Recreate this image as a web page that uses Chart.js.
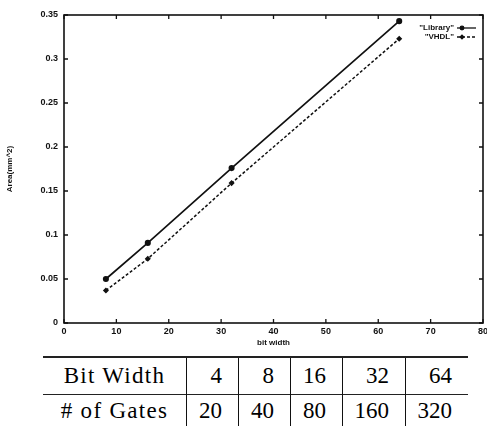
<!DOCTYPE html>
<html>
<head>
<meta charset="utf-8">
<script src="https://cdn.jsdelivr.net/npm/chart.js@4.4.1/dist/chart.umd.min.js"></script>
<style>
    html, body { margin: 0; padding: 0; background: #fff; overflow: hidden; }
    body { width: 487px; height: 427px; position: relative; }
    #areaChart { position: absolute; left: 0; top: 0; }
    #gateTable {
        position: absolute; left: 43px; top: 356px;
        border-collapse: collapse;
        font-family: "Liberation Serif", "DejaVu Serif", serif;
        font-size: 23px; color: #000;
    }
    #gateTable td {
        padding: 0 16px 0 0; text-align: right; height: 36px;
        border-left: 1.5px solid #111;
    }
    #gateTable tr:nth-child(2) td { height: 31px; }
    #gateTable td.head { text-align: center; padding: 0; letter-spacing: 1.3px; border-left: none; }
    #gateTable tr:first-child td { border-top: 2px solid #222; }
    #gateTable tr:nth-child(2) td { border-top: 1.5px solid #222; }
</style>
</head>
<body>
<canvas id="areaChart" width="497" height="352"></canvas>
<table id="gateTable"><tbody></tbody></table>
<script>
// 数据
const bitWidths = [8, 16, 32, 64];
const libraryArea = [0.05, 0.091, 0.176, 0.343];
const vhdlArea = [0.037, 0.073, 0.159, 0.323];

const tableBitWidth = [4, 8, 16, 32, 64];
const tableGates = [20, 40, 80, 160, 320];
const colWidths = [143, 51, 51, 51, 62, 62];

const ink = '#111';
const tickFont = { family: '"Liberation Sans", Arial, sans-serif', size: 9, weight: 'bold' };

// gnuplot 风格：边框 + 四边朝内的刻度
const framePlugin = {
    id: 'frame',
    afterDraw(chart) {
        const { ctx, chartArea: a, scales } = chart;
        ctx.save();
        ctx.strokeStyle = ink;
        ctx.lineWidth = 1.6;
        ctx.strokeRect(a.left, a.top, a.right - a.left, a.bottom - a.top);
        ctx.lineWidth = 1.3;
        const len = 4;
        scales.x.ticks.forEach(t => {
            const px = scales.x.getPixelForValue(t.value);
            ctx.beginPath();
            ctx.moveTo(px, a.bottom); ctx.lineTo(px, a.bottom - len);
            ctx.moveTo(px, a.top); ctx.lineTo(px, a.top + len);
            ctx.stroke();
        });
        scales.y.ticks.forEach(t => {
            const py = scales.y.getPixelForValue(t.value);
            ctx.beginPath();
            ctx.moveTo(a.left, py); ctx.lineTo(a.left + len, py);
            ctx.moveTo(a.right, py); ctx.lineTo(a.right - len, py);
            ctx.stroke();
        });
        ctx.restore();
    }
};

// 右上角图例（文字在左，样例线在右）
const keyPlugin = {
    id: 'gnuKey',
    afterDraw(chart) {
        const { ctx } = chart;
        ctx.save();
        ctx.font = 'bold 8px "Liberation Sans", Arial, sans-serif';
        ctx.textAlign = 'right';
        ctx.textBaseline = 'middle';
        chart.data.datasets.forEach((ds, i) => {
            const y = 28 + i * 9;
            ctx.fillStyle = ink;
            ctx.fillText(ds.label, 454, y);
            ctx.strokeStyle = ink;
            ctx.lineWidth = 1.3;
            ctx.setLineDash(ds.borderDash || []);
            ctx.beginPath();
            ctx.moveTo(457, y); ctx.lineTo(476, y);
            ctx.stroke();
            ctx.setLineDash([]);
            Chart.helpers.drawPoint(ctx, {
                pointStyle: ds.pointStyle, radius: 1.8, borderWidth: 1
            }, 462, y);
            ctx.fill();
        });
        ctx.restore();
    }
};

const ctx = document.getElementById('areaChart').getContext('2d');
ctx.fillStyle = ink;

new Chart(ctx, {
    type: 'line',
    data: {
        datasets: [
            {
                label: '"Library"',
                data: bitWidths.map((x, i) => ({ x, y: libraryArea[i] })),
                borderColor: ink,
                backgroundColor: ink,
                borderWidth: 1.7,
                pointStyle: 'circle',
                pointRadius: 2.2,
                pointBackgroundColor: ink,
                pointBorderColor: ink
            },
            {
                label: '"VHDL"',
                data: bitWidths.map((x, i) => ({ x, y: vhdlArea[i] })),
                borderColor: ink,
                backgroundColor: ink,
                borderWidth: 1.5,
                borderDash: [3, 2],
                pointStyle: 'rectRot',
                pointRadius: 2,
                pointBackgroundColor: ink,
                pointBorderColor: ink
            }
        ]
    },
    options: {
        responsive: false,
        devicePixelRatio: 1,
        animation: false,
        layout: { padding: { top: 15, right: 14, left: 0, bottom: 0 } },
        plugins: {
            legend: { display: false },
            tooltip: { enabled: false }
        },
        scales: {
            x: {
                type: 'linear',
                min: 0,
                max: 80,
                grid: { display: false, drawTicks: false, tickLength: 0 },
                border: { display: false },
                ticks: { stepSize: 10, color: ink, font: tickFont, padding: 3, maxRotation: 0 },
                title: {
                    display: true, text: 'bit width', color: ink,
                    font: { family: tickFont.family, size: 8, weight: 'bold' },
                    padding: { top: 0, bottom: 4 }
                },
                afterFit(scale) {
                    scale.height = 29;
                    scale.paddingLeft = 0;
                    scale.paddingRight = 0;
                }
            },
            y: {
                min: 0,
                max: 0.35,
                grid: { display: false, drawTicks: false, tickLength: 0 },
                border: { display: false },
                ticks: {
                    stepSize: 0.05, color: ink, font: tickFont, padding: 6,
                    callback: v => String(+v.toFixed(2))
                },
                title: {
                    display: true, text: 'Area(mm^2)', color: ink,
                    font: { family: tickFont.family, size: 8, weight: 'bold' },
                    padding: { top: 5, bottom: 0 }
                },
                afterFit(scale) {
                    scale.width = 64;
                    scale.paddingTop = 0;
                    scale.paddingBottom = 0;
                }
            }
        }
    },
    plugins: [framePlugin, keyPlugin]
});

// 表格
const tbody = document.querySelector('#gateTable tbody');
[['Bit Width', tableBitWidth], ['# of Gates', tableGates]].forEach(([name, values]) => {
    const row = document.createElement('tr');
    [name, ...values].forEach((v, i) => {
        const td = document.createElement('td');
        td.textContent = v;
        td.style.width = (colWidths[i] - (i ? 16 : 0)) + 'px';
        if (i === 0) td.className = 'head';
        row.appendChild(td);
    });
    tbody.appendChild(row);
});
</script>
</body>
</html>
